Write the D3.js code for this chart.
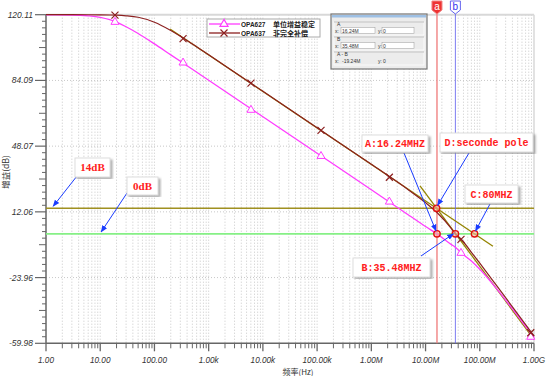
<!DOCTYPE html>
<html>
<head>
<meta charset="utf-8">
<script src="https://cdn.jsdelivr.net/npm/d3@7"></script>
<style>
  body { margin: 0; background: #fff; }
  svg { display: block; font-family: "Liberation Sans", Arial, sans-serif; }
</style>
</head>
<body>
<div id="chart"></div>
<script>
// ---- data ----
const freqTicks = [1, 10, 100, 1e3, 1e4, 1e5, 1e6, 1e7, 1e8, 1e9];
const freqLabels = ["1.00", "10.00", "100.00", "1.00k", "10.00k", "100.00k", "1.00M", "10.00M", "100.00M", "1.00G"];
const gainTicks = [120.11, 84.09, 48.07, 12.06, -23.96, -59.98];
const gainLabels = ["120.11", "84.09", "48.07", "12.06", "-23.96", "-59.98"];

const curveFreq = [1, 3, 6, 10, 15, 20, 30, 50, 100, 200, 500, 1e3, 1e4, 1e5, 1e6, 5e6, 1e7, 1.624e7, 3e7, 3.548e7, 4.5e7, 7e7, 1e8, 2e8, 4e8, 7e8, 1e9];
const opa627Gain = [120.08, 119.95, 119.5, 118.7, 117.4, 116.0, 113.5, 109.8, 104.1, 98.1, 90.2, 84.2, 64.2, 44.2, 24.2, 10.1, 4.0, 0, -5.9, -7.3, -10.3, -14.9, -19.4, -29.7, -41.1, -50.7, -56.9];
const opa637Gain = [120.1, 120.1, 120.08, 120.03, 119.95, 119.84, 119.5, 118.7, 116.0, 111.5, 104.1, 98.1, 78.1, 58.1, 38.1, 23.8, 17.1, 11.7, 2.9, 0, -2.8, -10.1, -16.1, -28.0, -40.0, -49.8, -55.9];

const markerFreq = [18.7, 337, 6.03e3, 1.18e5, 2.15e6, 4.5e7, 8.7e8];
const opa627Marker = [116.1, 93.8, 67.9, 42.6, 17.6, -10.5, -56.5];
const opa637Marker = [119.9, 107.0, 82.6, 56.7, 31.0, -3.0, -54.2];

// asymptotes (-20 dB/dec and -40 dB/dec) for OPA637
const asym1 = [[194, 112.3], [1.75e8, -6.8]];
const asym2 = [[7.9e6, 26.3], [1e9, -57.8]];

const levelLines = [14, 0];
const cursorA = 16.24e6, cursorB = 35.48e6;

// annotated points: freq, gain
const points = [[16.24e6, 0], [35.48e6, 0], [80e6, 0], [16e6, 14]];

const callouts = [
  { text: "14dB", tx: 1.3, ty: 14, serif: true },
  { text: "0dB", tx: 10, ty: 0, serif: true },
  { text: "A:16.24MHZ", tx: 16.24e6, ty: 0 },
  { text: "D:seconde pole", tx: 16e6, ty: 14 },
  { text: "C:80MHZ", tx: 80e6, ty: 0 },
  { text: "B:35.48MHZ", tx: 35.48e6, ty: 0 }
];
// box layout for callouts [x, y, w, h, arrow start x, arrow start y, arrow end dx, dy]
const calloutBoxes = [
  [75, 158, 35, 19, 77, 176, 1, -2],
  [127, 177, 31, 18, 127, 193, 1, -2],
  [362, 135, 66, 17, 404, 153, -1, -3],
  [440, 133, 93, 19, 469, 153, 1, -3],
  [465, 185, 53, 18, 490, 204, 1, -3],
  [353, 258, 77, 19, 421, 256, -2, 0]
];

const W = 550, H = 376;
const x = d3.scaleLog().domain([1, 1e9]).range([46, 534]);
const y = d3.scaleLinear().domain([-59.98, 120.11]).range([343.3, 14.7]);

const svg = d3.select("#chart").append("svg")
    .attr("width", W).attr("height", H);

const defs = svg.append("defs");
defs.append("marker").attr("id", "arrow")
    .attr("viewBox", "0 0 10 10").attr("refX", 9).attr("refY", 5)
    .attr("markerWidth", 7).attr("markerHeight", 7).attr("orient", "auto")
    .append("path").attr("d", "M0,1L10,5L0,9z").attr("fill", "#1a3cff");
defs.append("filter").attr("id", "shadow")
    .append("feDropShadow").attr("dx", 2).attr("dy", 2).attr("stdDeviation", 1)
    .attr("flood-color", "#888").attr("flood-opacity", 0.7);

// grid
const minorX = [];
for (let d = 1; d < 1e9; d *= 10) for (let k = 1; k < 10; k++) minorX.push(d * k);
minorX.push(1e9);

svg.append("g").selectAll("line").data(minorX.filter(v => v > 1 && v < 1e9)).join("line")
    .attr("x1", d => x(d)).attr("x2", d => x(d))
    .attr("y1", y(120.11)).attr("y2", y(-59.98))
    .attr("stroke", "#c8c8c8").attr("stroke-dasharray", "1,2");
svg.append("g").selectAll("line").data(gainTicks.slice(1, -1)).join("line")
    .attr("x1", x(1)).attr("x2", x(1e9))
    .attr("y1", d => y(d)).attr("y2", d => y(d))
    .attr("stroke", "#c8c8c8").attr("stroke-dasharray", "1,2");

// frame top / right
svg.append("line").attr("x1", x(1)).attr("x2", x(1e9)).attr("y1", y(120.11)).attr("y2", y(120.11))
    .attr("stroke", "#d8d8d8").attr("stroke-width", 2);
svg.append("line").attr("x1", x(1e9)).attr("x2", x(1e9)).attr("y1", y(120.11)).attr("y2", y(-59.98))
    .attr("stroke", "#d8d8d8").attr("stroke-width", 1.5);

// y axis
const yMinor = [];
for (let i = 0; i < gainTicks.length - 1; i++) {
  for (let k = 1; k < 10; k++) yMinor.push({ v: gainTicks[i] + (gainTicks[i + 1] - gainTicks[i]) * k / 10, mid: k === 5 });
}
const axisCol = "#666";
svg.append("line").attr("x1", x(1)).attr("x2", x(1)).attr("y1", y(120.11)).attr("y2", y(-59.98))
    .attr("stroke", axisCol).attr("stroke-width", 1.5);
svg.append("g").selectAll("line").data(yMinor).join("line")
    .attr("x1", d => x(1) - (d.mid ? 7 : 4)).attr("x2", x(1))
    .attr("y1", d => y(d.v)).attr("y2", d => y(d.v))
    .attr("stroke", axisCol);
svg.append("g").selectAll("line").data(gainTicks).join("line")
    .attr("x1", x(1) - 11).attr("x2", x(1))
    .attr("y1", d => y(d)).attr("y2", d => y(d))
    .attr("stroke", axisCol).attr("stroke-width", 1.2);
svg.append("g").selectAll("text").data(gainTicks).join("text")
    .attr("x", x(1) - 13).attr("y", d => y(d) + 3)
    .attr("text-anchor", "end").attr("font-size", 8.5).attr("font-style", "italic")
    .attr("fill", "#333").text((d, i) => gainLabels[i]);

// x axis
svg.append("line").attr("x1", x(1)).attr("x2", x(1e9)).attr("y1", y(-59.98)).attr("y2", y(-59.98))
    .attr("stroke", axisCol).attr("stroke-width", 1.5);
svg.append("g").selectAll("line").data(minorX).join("line")
    .attr("x1", d => x(d)).attr("x2", d => x(d))
    .attr("y1", y(-59.98)).attr("y2", d => y(-59.98) + (freqTicks.includes(d) ? 8 : 5))
    .attr("stroke", axisCol).attr("stroke-width", d => freqTicks.includes(d) ? 1.3 : 1);
svg.append("g").selectAll("text").data(freqTicks).join("text")
    .attr("x", d => x(d)).attr("y", 362.5)
    .attr("text-anchor", "middle").attr("font-size", 8.2).attr("font-style", "italic")
    .attr("fill", "#333").text((d, i) => freqLabels[i]);

svg.append("text").attr("x", 298).attr("y", 374.5).attr("text-anchor", "middle")
    .attr("font-size", 8).attr("fill", "#333")
    .attr("font-family", "'Noto Sans CJK SC', sans-serif").text("频率(Hz)");
svg.append("text").attr("transform", "translate(9,172) rotate(-90)").attr("text-anchor", "middle")
    .attr("font-size", 8.5).attr("fill", "#333")
    .attr("font-family", "'Noto Sans CJK SC', sans-serif").text("增益(dB)");

// level lines 14 dB / 0 dB
svg.append("g").selectAll("line").data(levelLines).join("line")
    .attr("x1", x(1)).attr("x2", x(1e9))
    .attr("y1", d => y(d)).attr("y2", d => y(d))
    .attr("stroke", (d, i) => i === 0 ? "#a09020" : "#86f086").attr("stroke-width", 1.6);

// cursors
const cursors = [{ f: cursorA, name: "a", col: "#f08080", w: 1.6, fill: "#ee3333", tc: "#fff" },
                 { f: cursorB, name: "b", col: "#6666ee", w: 1, fill: "#fff", tc: "#3333ee" }];
const cg = svg.append("g").selectAll("g").data(cursors).join("g");
cg.append("line").attr("x1", d => x(d.f)).attr("x2", d => x(d.f))
    .attr("y1", 13).attr("y2", y(-59.98))
    .attr("stroke", d => d.col).attr("stroke-width", d => d.w).attr("opacity", 0.85);
cg.append("path")
    .attr("d", d => { const c = x(d.f); return `M${c - 5},1H${c + 5}V10L${c},14L${c - 5},10Z`; })
    .attr("fill", d => d.fill).attr("stroke", d => d.col);
cg.append("text").attr("x", d => x(d.f)).attr("y", 10).attr("text-anchor", "middle")
    .attr("font-size", 10).attr("fill", d => d.tc).text(d => d.name);

// asymptote lines
const straight = d3.line().x(d => x(d[0])).y(d => y(d[1]));
svg.append("g").selectAll("path").data([asym1, asym2]).join("path")
    .attr("d", straight).attr("fill", "none").attr("stroke", "#948400").attr("stroke-width", 1.3);

// curves
const line = d3.line().x(d => x(d[0])).y(d => y(d[1])).curve(d3.curveMonotoneX);
const c627 = "#ff3cff", c637 = "#8c2020";
svg.append("path").datum(curveFreq.map((f, i) => [f, opa627Gain[i]]))
    .attr("d", line).attr("fill", "none").attr("stroke", c627).attr("stroke-width", 1.3);
svg.append("path").datum(curveFreq.map((f, i) => [f, opa637Gain[i]]))
    .attr("d", line).attr("fill", "none").attr("stroke", c637).attr("stroke-width", 1.2);

// markers
const tri = d3.symbol().type(d3.symbolTriangle).size(28);
svg.append("g").selectAll("path").data(markerFreq.map((f, i) => [f, opa627Marker[i]])).join("path")
    .attr("transform", d => `translate(${x(d[0])},${y(d[1])})`)
    .attr("d", tri).attr("fill", "#fff").attr("stroke", c627).attr("stroke-width", 1);
svg.append("g").selectAll("path").data(markerFreq.map((f, i) => [f, opa637Marker[i]])).join("path")
    .attr("transform", d => `translate(${x(d[0])},${y(d[1])})`)
    .attr("d", "M-3.5,-3.5L3.5,3.5M-3.5,3.5L3.5,-3.5").attr("stroke", c637).attr("stroke-width", 1.2);

// annotated points
svg.append("g").selectAll("circle").data(points).join("circle")
    .attr("cx", d => x(d[0])).attr("cy", d => y(d[1])).attr("r", 3.2)
    .attr("fill", "#ffb0a0").attr("fill-opacity", 0.6).attr("stroke", "#e01010").attr("stroke-width", 1.4);

// legend
const lg = svg.append("g");
lg.append("rect").attr("x", 207).attr("y", 19).attr("width", 113).attr("height", 18)
    .attr("fill", "#fff").attr("stroke", "#aaa");
const legendItems = [{ name: "OPA627", note: "单位增益稳定", col: c627, sym: "tri" },
                     { name: "OPA637", note: "非完全补偿", col: c637, sym: "x" }];
const li = lg.selectAll("g").data(legendItems).join("g")
    .attr("transform", (d, i) => `translate(0,${24 + i * 9})`);
li.append("line").attr("x1", 209).attr("x2", 240).attr("stroke", d => d.col).attr("stroke-width", 1.3);
li.append("path").attr("transform", "translate(224,0)")
    .attr("d", d => d.sym === "tri" ? tri() : "M-3.5,-3.5L3.5,3.5M-3.5,3.5L3.5,-3.5")
    .attr("fill", "#fff").attr("stroke", d => d.col).attr("stroke-width", 1.2);
li.append("text").attr("x", 241).attr("y", 2.5).attr("font-size", 6.5).attr("font-weight", "bold")
    .attr("fill", "#222").text(d => d.name);
li.append("text").attr("x", 273).attr("y", 3).attr("font-size", 7).attr("font-weight", "bold")
    .attr("font-family", "'Noto Sans CJK SC', sans-serif")
    .attr("fill", "#222").text(d => d.note);

// cursor readout panel
const rp = svg.append("g").attr("font-size", 5).attr("fill", "#333");
rp.append("rect").attr("x", 331).attr("y", 14).attr("width", 96).attr("height", 55)
    .attr("fill", "#ececec").attr("stroke", "#777").attr("stroke-width", 1.2);
rp.append("rect").attr("x", 332).attr("y", 15).attr("width", 94).attr("height", 2.5).attr("fill", "#9ec0e4");
const readRows = [
  { title: "A", xv: "16.24M", yv: "0", box: true },
  { title: "B", xv: "35.48M", yv: "0", box: true },
  { title: "A - B", xv: "-19.24M", yv: "0", box: false }
];
const rr = rp.selectAll("g").data(readRows).join("g")
    .attr("transform", (d, i) => `translate(0,${22 + i * 15})`);
rr.append("rect").attr("x", 334).attr("y", 0).attr("width", 90).attr("height", 13)
    .attr("fill", "none").attr("stroke", "#fff").attr("stroke-width", 0.8);
rr.append("line").attr("x1", 334).attr("x2", 424).attr("y1", 0).attr("y2", 0).attr("stroke", "#bbb");
rr.append("text").attr("x", 337).attr("y", 3.5).attr("fill", "#333").text(d => d.title);
rr.filter(d => d.box).append("rect").attr("x", 341).attr("y", 5.5).attr("width", 34).attr("height", 6)
    .attr("fill", "#fff").attr("stroke", "#999").attr("stroke-width", 0.5);
rr.filter(d => d.box).append("rect").attr("x", 382).attr("y", 5.5).attr("width", 32).attr("height", 6)
    .attr("fill", "#fff").attr("stroke", "#999").attr("stroke-width", 0.5);
rr.append("text").attr("x", 335).attr("y", 10.5).text("x:");
rr.append("text").attr("x", 342).attr("y", 10.5).text(d => d.xv);
rr.append("text").attr("x", 378).attr("y", 10.5).text("y:");
rr.append("text").attr("x", 383).attr("y", 10.5).text(d => d.yv);

// callouts
const cl = svg.append("g").selectAll("g").data(callouts).join("g");
cl.append("line")
    .attr("x1", (d, i) => calloutBoxes[i][4]).attr("y1", (d, i) => calloutBoxes[i][5])
    .attr("x2", (d, i) => x(d.tx) + calloutBoxes[i][6])
    .attr("y2", (d, i) => y(d.ty) + calloutBoxes[i][7])
    .attr("stroke", "#1a3cff").attr("stroke-width", 1).attr("marker-end", "url(#arrow)");
cl.append("rect")
    .attr("x", (d, i) => calloutBoxes[i][0]).attr("y", (d, i) => calloutBoxes[i][1])
    .attr("width", (d, i) => calloutBoxes[i][2]).attr("height", (d, i) => calloutBoxes[i][3])
    .attr("fill", "#fff").attr("stroke", "#ddd").attr("filter", "url(#shadow)");
cl.append("text")
    .attr("x", (d, i) => calloutBoxes[i][0] + calloutBoxes[i][2] / 2)
    .attr("y", (d, i) => calloutBoxes[i][1] + calloutBoxes[i][3] / 2 + 3.5)
    .attr("text-anchor", "middle").attr("fill", "#ff2020").attr("font-weight", "bold")
    .attr("font-size", d => d.serif ? 11 : 10)
    .attr("font-family", d => d.serif ? "'Liberation Serif', serif" : "'Liberation Mono', monospace")
    .text(d => d.text);
</script>
</body>
</html>
